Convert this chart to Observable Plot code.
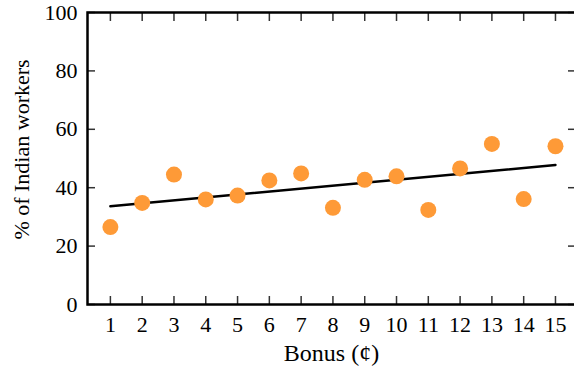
<!DOCTYPE html>
<html>
<head>
<meta charset="utf-8">
<script src="https://cdn.jsdelivr.net/npm/d3@7"></script>
<script src="https://cdn.jsdelivr.net/npm/@observablehq/plot@0.6"></script>
<style>
  html, body { margin: 0; padding: 0; background: #fff; }
  svg { display: block; }
</style>
</head>
<body>
<div id="chart"></div>
<script>
const bonus = [1, 2, 3, 4, 5, 6, 7, 8, 9, 10, 11, 12, 13, 14, 15];
const percentIndian = [26.5, 34.8, 44.5, 36.0, 37.3, 42.5, 44.9, 33.1, 42.7, 43.9, 32.4, 46.6, 55.0, 36.1, 54.2];
const xTicks = [1, 2, 3, 4, 5, 6, 7, 8, 9, 10, 11, 12, 13, 14, 15];
const yTicks = [0, 20, 40, 60, 80, 100];
const xLabel = "Bonus (¢)";
const yLabel = "% of Indian workers";

const data = bonus.map((b, i) => ({bonus: b, pct: percentIndian[i]}));

const font = "'Liberation Serif', 'DejaVu Serif', serif";

const chart = Plot.plot({
  width: 574,
  height: 367,
  marginLeft: 87,
  marginRight: -1,
  marginTop: 12,
  marginBottom: 63,
  style: {fontFamily: font, fontSize: "22px", color: "#000", background: "#fff"},
  x: {domain: [0.28, 15.63]},
  y: {domain: [0, 100]},
  marks: [
    // inward ticks
    Plot.axisX({anchor: "bottom", ticks: xTicks, tickSize: -8, tickFormat: () => "", label: null, stroke: "#333", strokeWidth: 1.5}),
    Plot.axisX({anchor: "top", ticks: xTicks, tickSize: -8, tickFormat: () => "", label: null, stroke: "#333", strokeWidth: 1.5}),
    Plot.axisY({anchor: "left", ticks: yTicks, tickSize: -8, tickFormat: () => "", label: null, stroke: "#333", strokeWidth: 1.5}),
    Plot.axisY({anchor: "right", ticks: yTicks, tickSize: -8, tickFormat: () => "", label: null, stroke: "#333", strokeWidth: 1.5}),
    // tick labels
    Plot.text(xTicks, {x: d => d, frameAnchor: "bottom", lineAnchor: "top", dy: 12, fontSize: 22, fill: "#000"}),
    Plot.text(yTicks, {y: d => d, frameAnchor: "left", textAnchor: "end", lineAnchor: "middle", dx: -10, fontSize: 22, fill: "#000"}),
    Plot.frame({stroke: "#000", strokeWidth: 2.5}),
    Plot.linearRegressionY(data, {x: "bonus", y: "pct", ci: 0, stroke: "#000", strokeWidth: 2.5}),
    Plot.dot(data, {x: "bonus", y: "pct", r: 8, fill: "#fe9a37", stroke: "none"}),
    Plot.text([xLabel], {frameAnchor: "bottom", textAnchor: "middle", dy: 49, lineAnchor: "middle", fontSize: 24}),
    Plot.text([yLabel], {frameAnchor: "left", textAnchor: "middle", rotate: -90, dx: -66, dy: -9, lineAnchor: "middle", fontSize: 22})
  ]
});
document.getElementById("chart").appendChild(chart);
</script>
</body>
</html>
